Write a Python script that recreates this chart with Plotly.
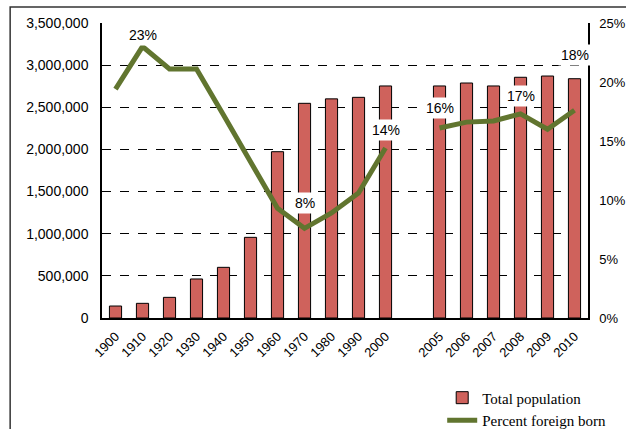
import plotly.graph_objects as go

# categories (blank slot between 2000 and 2005)
years = ["1900", "1910", "1920", "1930", "1940", "1950", "1960", "1970", "1980",
         "1990", "2000", " ", "2005", "2006", "2007", "2008", "2009", "2010"]

population = [142000, 174000, 245000, 463000, 601000, 957000, 1973000, 2547000,
              2600000, 2618000, 2753000, None, 2753000, 2788000, 2753000,
              2856000, 2871000, 2839000]

pct_foreign = [0.194, 0.230, 0.211, 0.211, 0.172, 0.133, 0.093, 0.076, 0.089,
               0.106, 0.144, None, 0.161, 0.166, 0.167, 0.173, 0.160, 0.176]

# which points get a data label, and how far above the point it sits (px)
label_years = ["1910", "1970", "2000", "2005", "2008", "2010"]
label_shift = [12, 25, 18, 20, 18, 55]

fig = go.Figure()

fig.add_trace(go.Bar(
    x=years, y=population,
    name="Total population",
    marker=dict(color="#CF625C", line=dict(color="black", width=1)),
))

fig.add_trace(go.Scatter(
    x=years, y=pct_foreign,
    mode="lines", name="Percent foreign born",
    line=dict(color="#61752F", width=5),
    connectgaps=False,
    yaxis="y2",
))

for yr, sh in zip(label_years, label_shift):
    i = years.index(yr)
    v = pct_foreign[i]
    fig.add_annotation(
        x=i, y=v, xref="x", yref="y2",
        text=f"{v * 100:.0f}%", showarrow=False,
        yshift=sh, bgcolor="white", borderpad=2,
        font=dict(family="Liberation Sans, Arial", size=14, color="black"),
    )

# outer chart border
fig.add_shape(type="rect", xref="paper", yref="paper",
              x0=-0.189, x1=1.09, y0=-0.39, y1=1.054,
              line=dict(color="#333333", width=1.5), layer="below")

fig.update_layout(
    width=626, height=429,
    margin=dict(l=102, r=38, t=23, b=111, autoexpand=False),
    paper_bgcolor="white", plot_bgcolor="white",
    bargap=0.55,
    font=dict(family="Liberation Sans, Arial", size=14, color="black"),
    xaxis=dict(
        type="category",
        range=[-0.5, len(years) - 0.5],
        tickangle=-45,
        showline=True, linecolor="black", linewidth=1.5,
        showgrid=False,
        ticks="",
        ticklabelstandoff=4,
        tickfont=dict(size=13),
    ),
    yaxis=dict(
        range=[0, 3500000], dtick=500000, tickformat=",",
        showgrid=True, gridcolor="black", griddash="dash", gridwidth=1,
        showline=True, linecolor="black", linewidth=1.5,
        zeroline=False,
        ticks="",
        ticklabelstandoff=9,
    ),
    yaxis2=dict(
        range=[0, 0.25], dtick=0.05, tickformat=".0%",
        overlaying="y", side="right",
        showgrid=False, zeroline=False,
        showline=True, linecolor="black", linewidth=1.5,
        ticks="",
        ticklabelstandoff=7,
        tickfont=dict(size=13),
    ),
    legend=dict(
        x=0.70, y=-0.215, xanchor="left", yanchor="top",
        font=dict(family="Liberation Serif, Times New Roman", size=15, color="black"),
        bgcolor="rgba(0,0,0,0)",
        itemwidth=30,
        tracegroupgap=0,
    ),
)

# drop the default page margin so the figure fills the window exactly
fig.write_html("out.html", config={"displayModeBar": False},
               post_script="document.body.style.margin = '0';")
